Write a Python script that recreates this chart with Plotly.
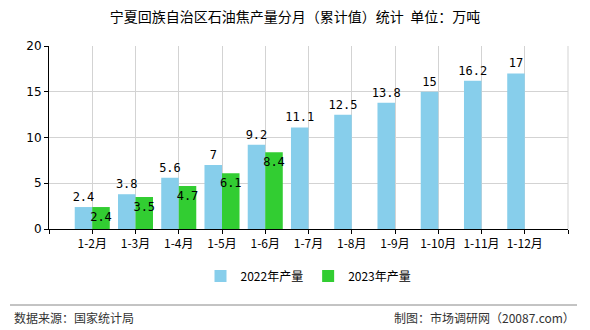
import plotly.graph_objects as go

categories = ["1-2月", "1-3月", "1-4月", "1-5月", "1-6月", "1-7月", "1-8月", "1-9月", "1-10月", "1-11月", "1-12月"]
values_2022 = [2.4, 3.8, 5.6, 7, 9.2, 11.1, 12.5, 13.8, 15, 16.2, 17]
values_2023 = [2.4, 3.5, 4.7, 6.1, 8.4, None, None, None, None, None, None]
yticks = [0, 5, 10, 15, 20]

pos = list(range(1, len(categories) + 1))
font_cn = "Noto Sans CJK SC, sans-serif"

fig = go.Figure()
fig.add_trace(go.Bar(
    x=pos, y=values_2022, name="2022年产量", marker_color="#87CEEB", marker_line_width=0,
    text=[str(v) for v in values_2022], textposition="outside", textangle=0,
    textfont=dict(size=12, color="black", family="DejaVu Sans Mono"),
    constraintext="none", cliponaxis=False,
))
fig.add_trace(go.Bar(
    x=pos, y=values_2023, name="2023年产量", marker_color="#32CD32", marker_line_width=0,
    text=[("" if v is None else str(v)) for v in values_2023], textposition="inside",
    insidetextanchor="end", textangle=0,
    textfont=dict(size=12, color="black", family="DejaVu Sans Mono"),
    constraintext="none",
))

fig.update_layout(
    width=590, height=330,
    margin=dict(l=49, r=22, t=46, b=101),
    paper_bgcolor="white", plot_bgcolor="white",
    barmode="group", bargap=0.19, bargroupgap=0,
    font=dict(family=font_cn, size=12, color="black"),
    title=dict(text="宁夏回族自治区石油焦产量分月（累计值）统计  单位：万吨",
               x=0.5, xanchor="center", y=1 - 17 / 330, yanchor="middle",
               font=dict(size=14, family=font_cn, color="black")),
    showlegend=True,
    legend=dict(orientation="h", x=0.5, xanchor="center", y=-(276 - 229) / 183, yanchor="middle",
                font=dict(size=12, family=font_cn), itemwidth=30),
)
fig.update_xaxes(
    range=[0, len(categories) + 1],
    tickvals=[0] + pos + [len(categories) + 1],
    ticktext=[""] + categories + [""],
    showgrid=True, gridcolor="#d3d3d3", gridwidth=1,
    showline=True, linecolor="black", linewidth=1, mirror=False,
    ticks="outside", ticklen=4, tickcolor="black",
    tickfont=dict(size=12, family=font_cn),
    zeroline=False,
)
fig.update_yaxes(
    range=[0, 20], tickvals=yticks,
    showgrid=True, gridcolor="#d3d3d3", gridwidth=1,
    showline=True, linecolor="black", linewidth=1,
    ticks="outside", ticklen=4, tickcolor="black",
    tickfont=dict(size=12, family="DejaVu Sans"),
    zeroline=False,
)
# right frame line
fig.add_shape(type="line", xref="paper", yref="paper", x0=1, x1=1, y0=0, y1=1,
              line=dict(color="#d3d3d3", width=1))
# footer divider
fig.add_shape(type="line", xref="paper", yref="paper",
              x0=-39 / 519, x1=(577 - 49) / 519, y0=-(305 - 229) / 183, y1=-(305 - 229) / 183,
              line=dict(color="#888888", width=1))
fig.add_annotation(text="数据来源：国家统计局", xref="paper", yref="paper",
                   x=-37 / 519, xanchor="left", y=-(317 - 229) / 183, yanchor="middle",
                   showarrow=False, font=dict(size=12, family=font_cn, color="#333333"))
fig.add_annotation(text="制图：市场调研网（20087.com）", xref="paper", yref="paper",
                   x=(577 - 49) / 519, xanchor="right", y=-(317 - 229) / 183, yanchor="middle",
                   showarrow=False, font=dict(size=12, family=font_cn, color="#333333"))

fig.write_html("out.html")
